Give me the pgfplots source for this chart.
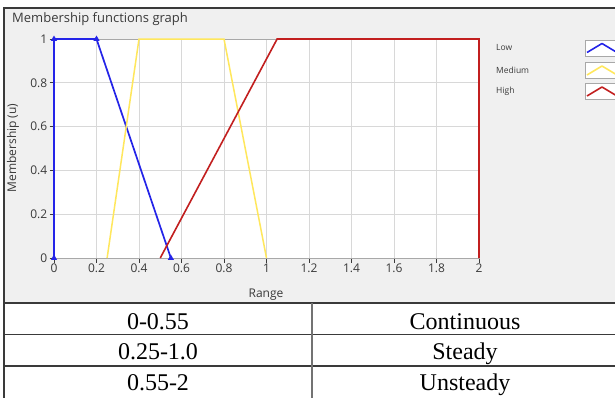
\documentclass[border=0pt]{standalone}
\usepackage{fontspec}
\setmainfont{Liberation Serif}
\newfontfamily\guifont{Open Sans}
\usepackage{pgfplots}
\pgfplotsset{compat=1.18}

\definecolor{panel}{HTML}{F0F0F0}
\definecolor{gridc}{HTML}{D8D8D8}
\definecolor{framec}{HTML}{A8A8A8}
\definecolor{lowc}{HTML}{2424E8}
\definecolor{medc}{HTML}{FFE75C}
\definecolor{highc}{HTML}{C21F1F}
\definecolor{txt}{HTML}{3A3A3A}
\definecolor{rule}{HTML}{3A3A3A}

\begin{document}
\begin{tikzpicture}
\useasboundingbox (0,0) rectangle (615pt,-397pt);
\clip (0,0) rectangle (615pt,-397pt);

% window panel and table grid
\begin{scope}[x=1pt,y=-1pt]
  \fill[white] (0,0) rectangle (615,397);
  \fill[panel] (4,8) rectangle (620,303);
  \draw[rule, line width=1.1pt] (4,400) -- (4,8) -- (620,8);
  \draw[rule, line width=1.1pt] (4,303) -- (620,303);
  \draw[rule, line width=1.1pt] (4,334.5) -- (620,334.5);
  \draw[rule, line width=1.1pt] (4,366) -- (620,366);
  \draw[black!55, line width=1.1pt] (312,303) -- (312,400);

  % window caption and axis labels
  \node[anchor=west, text=txt, font=\guifont\fontsize{13}{14}\selectfont, inner sep=0pt] at (12,19) {Membership functions graph};
  \node[rotate=90, text=txt, font=\guifont\fontsize{12}{13}\selectfont, inner sep=0pt] at (13,148) {Membership (u)};
  \node[text=txt, font=\guifont\fontsize{12}{13}\selectfont, inner sep=0pt] at (266,295) {Range};

  % legend entries
  \foreach \name/\yc/\col in {Low/48/lowc, Medium/70.5/medc, High/91.5/highc}{
    \node[anchor=west, text=txt, font=\guifont\fontsize{8.5}{9}\selectfont, inner sep=0pt] at (496,\yc) {\name};
    \draw[framec, fill=white, line width=1pt] (585,\yc-8) rectangle (640,\yc+8);
    \draw[\col, line width=1.6pt, line join=round] (587,\yc+4.5) -- (602,\yc-4.5) -- (617,\yc+4.5);
  }

  % table text, set on common baselines
  \begin{scope}[every node/.style={font=\fontsize{24}{26}\selectfont, inner sep=0pt, anchor=base}]
    \node at (158,329) {0-0.55};
    \node at (465,329) {Continuous};
    \node at (158,359.5) {0.25-1.0};
    \node at (465,359.5) {Steady};
    \node at (158,390) {0.55-2};
    \node at (465,390) {Unsteady};
  \end{scope}
\end{scope}

\begin{axis}[
  at={(54pt,-258pt)}, anchor=south west,
  scale only axis, width=425pt, height=219pt,
  xmin=0, xmax=2, ymin=0, ymax=1,
  xtick={0,0.2,0.4,0.6,0.8,1,1.2,1.4,1.6,1.8,2},
  ytick={0,0.2,0.4,0.6,0.8,1},
  xticklabels={0,0.2,0.4,0.6,0.8,1,1.2,1.4,1.6,1.8,2},
  yticklabels={0,0.2,0.4,0.6,0.8,1},
  xtick pos=bottom, ytick pos=left,
  grid=major,
  grid style={gridc, line width=1pt},
  axis background/.style={fill=white},
  axis line style={framec, line width=1pt},
  tick align=outside,
  major tick length=4.5pt,
  tick style={txt, line width=0.9pt},
  ticklabel style={font=\guifont\fontsize{12}{13}\selectfont, text=txt},
  xticklabel style={inner sep=1.5pt},
  yticklabel style={inner sep=2pt},
  /pgf/number format/assume math mode=true,
  clip=false,
]
  % Low
  \addplot[lowc, line width=1.7pt, mark=triangle*, mark size=1.8pt, mark options={solid}]
    coordinates {(0,0) (0,1) (0.2,1) (0.55,0)};
  % Medium
  \addplot[medc, line width=1.5pt]
    coordinates {(0.25,0) (0.4,1) (0.8,1) (1.0,0)};
  % High
  \addplot[highc, line width=1.6pt]
    coordinates {(0.5,0) (1.05,1) (2,1) (2,0)};
\end{axis}
\end{tikzpicture}
\end{document}
